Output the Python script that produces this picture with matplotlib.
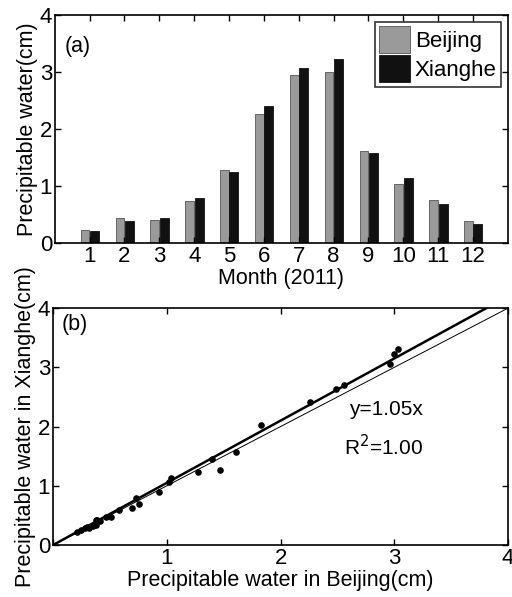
import numpy as np
import matplotlib
matplotlib.use('Agg')
import matplotlib.pyplot as plt

plt.rcParams['font.family'] = ['Liberation Sans', 'DejaVu Sans']

months = [1, 2, 3, 4, 5, 6, 7, 8, 9, 10, 11, 12]
beijing = [0.22, 0.43, 0.40, 0.74, 1.28, 2.26, 2.95, 3.00, 1.61, 1.04, 0.76, 0.38]
xianghe = [0.21, 0.39, 0.43, 0.79, 1.24, 2.41, 3.07, 3.22, 1.57, 1.14, 0.69, 0.33]

# scatter (b): Beijing vs Xianghe
sx = [0.21, 0.25, 0.28, 0.30, 0.32, 0.35, 0.375, 0.375, 0.39, 0.41, 0.47, 0.51,
      0.58, 0.69, 0.73, 0.76, 0.93, 1.02, 1.04, 1.27, 1.40, 1.47, 1.61, 1.83,
      2.26, 2.49, 2.56, 2.96, 3.00, 3.03]
sy = [0.22, 0.26, 0.28, 0.30, 0.29, 0.32, 0.34, 0.42, 0.43, 0.41, 0.47, 0.48,
      0.59, 0.62, 0.80, 0.70, 0.89, 1.07, 1.14, 1.24, 1.45, 1.27, 1.57, 2.03,
      2.41, 2.63, 2.70, 3.06, 3.22, 3.31]
slope = 1.05

fig = plt.figure(figsize=(5.12, 5.97), dpi=100)
ax1 = fig.add_axes([0.107, 0.593, 0.885, 0.382])
ax2 = fig.add_axes([0.1035, 0.087, 0.889, 0.397])

fs = 16
lfs = 15.5

m = np.array(months)
ax1.bar(m - 0.13, beijing, width=0.25, color='#9a9a9a', edgecolor='#555555', linewidth=0.6, label='Beijing')
ax1.bar(m + 0.14, xianghe, width=0.26, color='#111111', edgecolor='#111111', linewidth=0.6, label='Xianghe')
ax1.set_xlim(0, 13)
ax1.set_ylim(0, 4)
ax1.set_xticks(months)
ax1.set_yticks([0, 1, 2, 3, 4])
ax1.set_xlabel('Month (2011)', fontsize=lfs, labelpad=1)
ax1.set_ylabel('Precipitable water(cm)', fontsize=lfs, labelpad=1)
ax1.text(0.022, 0.86, '(a)', transform=ax1.transAxes, fontsize=15.5, va='center')
leg = ax1.legend(loc='upper right', fontsize=16, frameon=True, fancybox=False,
                 edgecolor='black', handlelength=1.4, handleheight=1.5,
                 handletextpad=0.2, borderpad=0.2, labelspacing=0.1,
                 borderaxespad=0.3)
leg.get_frame().set_linewidth(1.2)

xx = np.array([0, 4])
ax2.plot(xx, slope * xx, color='black', linewidth=1.8)
ax2.plot(xx, xx, color='black', linewidth=0.7)
ax2.scatter(sx, sy, s=14, color='black', zorder=3)
ax2.set_xlim(0, 4)
ax2.set_ylim(0, 4)
ax2.set_xticks([0, 1, 2, 3, 4])
ax2.set_xticklabels(['', '1', '2', '3', '4'])
ax2.set_yticks([0, 1, 2, 3, 4])
ax2.set_xlabel('Precipitable water in Beijing(cm)', fontsize=lfs, labelpad=1)
ax2.set_ylabel('Precipitable water in Xianghe(cm)', fontsize=lfs, labelpad=1)
ax2.text(0.02, 0.93, '(b)', transform=ax2.transAxes, fontsize=15.5, va='center')
ax2.text(2.6, 2.28, 'y=1.05x', fontsize=15, va='center')
ax2.text(2.56, 1.66, 'R$^{2}$=1.00', fontsize=15, va='center')

for ax in (ax1, ax2):
    ax.tick_params(direction='in', top=True, right=True, labelsize=fs, length=4, width=1, pad=2)
    for sp in ax.spines.values():
        sp.set_linewidth(1.2)

fig.savefig('out.png', dpi=100)
